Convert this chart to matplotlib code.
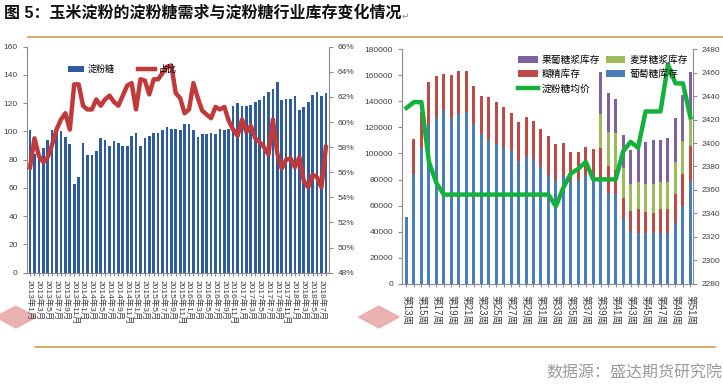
import matplotlib
matplotlib.use('Agg')
import matplotlib.pyplot as plt
from matplotlib.lines import Line2D
from matplotlib.patches import RegularPolygon
import numpy as np

plt.rcParams['font.family'] = ['Liberation Sans', 'Noto Sans CJK SC', 'DejaVu Sans']
plt.rcParams['axes.unicode_minus'] = False

# === 左图：淀粉糖产量与占比 ===
months = [f'{y}年{m}月' for y in range(2013, 2019) for m in range(1, 13)][:68]
starch_sugar = [101, 84, 82, 88, 94, 101, 103, 100, 96, 91,
                63, 68, 92, 83, 83, 86, 95, 94, 90, 93,
                92, 90, 90, 97, 99, 90, 95, 97, 99, 99,
                101, 103, 102, 102, 101, 105, 105, 101, 96, 98,
                98, 99, 98, 102, 101, 102, 118, 120, 118, 118,
                119, 121, 122, 125, 128, 130, 135, 122, 123, 123,
                125, 115, 117, 121, 126, 128, 125, 127]
ratio = [56.4, 58.7, 57.3, 56.8, 57.2, 58.2, 59.4, 60.2, 60.7, 59.4,
         63.0, 63.0, 61.3, 61.0, 61.0, 61.8, 61.3, 61.8, 62.1, 61.6,
         61.3, 62.1, 62.9, 63.1, 61.0, 63.4, 63.3, 62.2, 63.4, 63.4,
         63.9, 64.4, 64.5, 62.3, 61.9, 60.7, 61.0, 63.1, 61.9, 60.9,
         60.6, 60.3, 61.2, 61.0, 61.2, 60.1, 59.4, 58.9, 60.2, 59.2,
         59.7, 58.7, 58.4, 58.0, 57.4, 60.2, 57.5, 56.3, 57.0, 57.1,
         56.4, 57.2, 55.3, 54.8, 55.8, 55.6, 54.8, 58.0]

# === 右图：库存与均价 ===
weeks = [f'第{w}周' for w in range(13, 52)]
glucose = [51500, 84600, 104300, 121800, 127700, 133100, 127400, 130500, 131800, 122300,
           114600, 110300, 107400, 105100, 102600, 94400, 98000, 95400, 89700, 83600,
           79500, 82600, 79000, 79500, 83100, 80800, 80000, 70000, 69200, 50000,
           40300, 39000, 38500, 38500, 39200, 38500, 46200, 59700, 78700]
dextrin = [0, 26400, 27700, 33100, 31500, 27900, 33100, 33100, 31800, 29500,
           29500, 32800, 32100, 30500, 28900, 29700, 30200, 29700, 29500, 30200,
           27700, 25100, 22500, 21800, 21500, 22500, 24300, 20300, 18000, 15400,
           15600, 18700, 16600, 16100, 18000, 18700, 22500, 24400, 27200]
maltose = [0] * 26 + [26000, 26400, 28200, 23600, 21000, 20500, 21800, 21800, 21000,
                      20500, 24400, 25400, 22300]
hfcs = [0] * 26 + [32500, 30000, 26100, 25400, 25700, 32100, 32100, 33900, 32100,
                   34300, 34300, 35400, 34100]
price = [2430, 2435, 2435, 2384, 2366, 2356] + [2356] * 14 + \
        [2346, 2362, 2374, 2378, 2384, 2369, 2369, 2369, 2369, 2393,
         2401, 2396, 2427, 2427, 2427, 2467, 2451, 2451, 2422]

tick_color = '#404040'
spine_color = '#8c8c8c'


def style_axis(ax, sides):
    for s in ['top', 'left', 'right', 'bottom']:
        ax.spines[s].set_visible(s in sides)
        ax.spines[s].set_color(spine_color)
    ax.tick_params(colors=spine_color, labelcolor=tick_color, labelsize=6, length=3, width=0.8)


fig = plt.figure(figsize=(7.23, 3.89), dpi=100)

# 水印 logo（放在最底层）
for cx in [0.022, 0.524]:
    fig.add_artist(RegularPolygon((cx, 0.185), 4, radius=0.028, orientation=0,
                                  transform=fig.transFigure, color='#E8A5A5',
                                  alpha=0.85, zorder=0))

# --- 左图 ---
ax1 = fig.add_axes([0.037, 0.299, 0.418, 0.581])
x1 = np.arange(len(starch_sugar))
ax1.bar(x1, starch_sugar, width=0.6, color='#2E5C9C', label='淀粉糖')
ax1.set_ylim(0, 160)
ax1.set_yticks(range(0, 161, 20))
ax1.set_xlim(-0.75, len(x1) - 0.3)
ax1.set_xticks(x1)
ax1.set_xticklabels([m if i % 2 == 0 else '' for i, m in enumerate(months)],
                    rotation=-90, va='top', ha='center')
style_axis(ax1, ['left', 'bottom'])
ax1.tick_params(axis='x', length=2, labelsize=6, pad=3)

ax2 = ax1.twinx()
ax2.plot(x1, ratio, color='#C0393B', lw=3.2, solid_joinstyle='round', label='占比')
ax2.set_ylim(48, 66)
ax2.set_yticks(range(48, 67, 2))
ax2.set_yticklabels([f'{v}%' for v in range(48, 67, 2)])
style_axis(ax2, ['right'])

h1, l1 = ax1.get_legend_handles_labels()
h2, l2 = ax2.get_legend_handles_labels()
ax2.legend(h1 + h2, l1 + l2, ncol=2, loc='upper left', bbox_to_anchor=(0.11, 0.955),
           frameon=False, fontsize=6.5, handlelength=1.8, columnspacing=2.6,
           handletextpad=0.4)

# --- 右图 ---
ax3 = fig.add_axes([0.556, 0.271, 0.402, 0.602])
x2 = np.arange(len(weeks))
bw = 0.4
b_glu = np.array(glucose)
b_dex = b_glu + np.array(dextrin)
b_mal = b_dex + np.array(maltose)
ax3.bar(x2, hfcs, width=bw, bottom=b_mal, color='#7E63A0', label='果葡糖浆库存')
ax3.bar(x2, dextrin, width=bw, bottom=b_glu, color='#BE4B48', label='糊精库存')
ax3.bar(x2, maltose, width=bw, bottom=b_dex, color='#9BBB59', label='麦芽糖浆库存')
ax3.bar(x2, glucose, width=bw, color='#4A7EBB', label='葡萄糖库存')
ax3.set_ylim(0, 180000)
ax3.set_yticks(range(0, 180001, 20000))
ax3.set_xlim(-0.6, len(x2) - 0.7)
ax3.set_xticks(x2)
ax3.set_xticklabels([w if i % 2 == 0 else '' for i, w in enumerate(weeks)],
                    rotation=-90, va='top', ha='center')
style_axis(ax3, ['left', 'bottom'])
ax3.tick_params(axis='x', length=2, labelsize=7, pad=6)

ax4 = ax3.twinx()
ax4.plot(x2, price, color='#13B03C', lw=3.2, solid_joinstyle='round', label='淀粉糖均价')
ax4.set_ylim(2280, 2480)
ax4.set_yticks(range(2280, 2481, 20))
style_axis(ax4, ['right'])

h3, l3 = ax3.get_legend_handles_labels()
h4, l4 = ax4.get_legend_handles_labels()
hd = dict(zip(l3 + l4, h3 + h4))
order = ['果葡糖浆库存', '糊精库存', '淀粉糖均价', '麦芽糖浆库存', '葡萄糖库存']
ax4.legend([hd[k] for k in order], order, ncol=2, loc='upper left',
           bbox_to_anchor=(0.37, 1.015), frameon=False, fontsize=7,
           handlelength=2.0, columnspacing=0.6, handletextpad=0.4,
           labelspacing=0.45)

# === 标题、分隔线、来源 ===
fig.text(0.005, 0.968, '图 5：玉米淀粉的淀粉糖需求与淀粉糖行业库存变化情况',
         fontsize=11.5, fontweight='bold', va='center', ha='left', color='#111111')
fig.text(0.556, 0.958, '↵', fontsize=6.5, color='#888888', va='center',
         family=['DejaVu Sans'])
fig.add_artist(Line2D([0.039, 1.0], [0.905, 0.905], color='#D4A04A', lw=1.2))
fig.add_artist(Line2D([0.048, 0.989], [0.107, 0.107], color='#D4A04A', lw=1.2))
fig.text(0.999, 0.041, '数据源：盛达期货研究院', fontsize=11.5, color='#9a9a9a',
         ha='right', va='center')

fig.savefig('out.png', dpi=100)
